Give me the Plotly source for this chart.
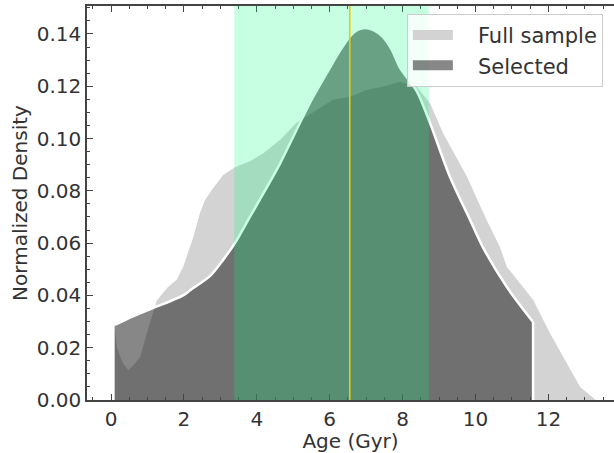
import plotly.graph_objects as go

# ---- data ----
full_x = [0.10, 0.16, 0.33, 0.47, 0.60, 0.80, 0.93, 1.07, 1.15, 1.25, 1.55, 1.80, 1.98, 2.25, 2.44,
          2.58, 2.80, 3.07, 3.40, 3.81, 4.18, 4.64, 5.09, 5.64, 6.09, 6.56, 7.02, 7.50, 7.93, 8.39,
          8.75, 9.11, 9.77, 10.30, 10.67, 10.86, 11.58, 12.04, 12.50, 12.87, 13.20, 13.30]
full_y = [0.028, 0.020, 0.014, 0.0115, 0.013, 0.0165, 0.023, 0.0295, 0.034, 0.038, 0.043, 0.046,
          0.051, 0.062, 0.0715, 0.0765, 0.081, 0.086, 0.089, 0.0913, 0.0944, 0.0995, 0.106, 0.1109,
          0.1148, 0.116, 0.1186, 0.120, 0.1217, 0.1197, 0.1136, 0.102, 0.0853, 0.0689, 0.0585,
          0.0509, 0.0383, 0.0256, 0.0142, 0.005, 0.0011, 0.0]

sel_x = [0.10, 0.60, 1.15, 1.34, 1.98, 2.17, 2.72, 3.07, 3.40, 3.81, 4.18, 4.64, 5.09, 5.50, 6.00,
         6.30, 6.55, 6.75, 6.97, 7.20, 7.45, 7.70, 7.93, 8.39, 8.75, 9.30, 9.85, 10.20, 10.86, 11.58]
sel_y = [0.0287, 0.032, 0.0352, 0.0362, 0.0400, 0.0420, 0.0475, 0.0535, 0.0600, 0.0700, 0.0790,
         0.0905, 0.1033, 0.1148, 0.1270, 0.1340, 0.1390, 0.1415, 0.1423, 0.1415, 0.1390, 0.1340,
         0.1270, 0.1180, 0.1060, 0.0853, 0.0689, 0.0585, 0.0432, 0.0298]

band_lo, band_hi = 3.38, 8.72
age_marker = 6.55

x_ticks = [0, 2, 4, 6, 8, 10, 12]
y_ticks = [0.00, 0.02, 0.04, 0.06, 0.08, 0.10, 0.12, 0.14]
x_range = [-0.66, 13.80]
y_range = [0.0, 0.1507]

FONT = "DejaVu Sans"
TXT = "#333333"
AX = "#444444"
FULL_COLOR = "#d3d3d3"
SEL_COLOR = "rgba(0,0,0,0.47)"
PAD = "\u00a0\u00a0\u00a0"

fig = go.Figure()

fig.add_trace(go.Scatter(
    x=full_x, y=full_y, mode="lines", fill="tozeroy",
    fillcolor=FULL_COLOR, line=dict(width=0, color=FULL_COLOR),
    showlegend=False, hoverinfo="skip"))

fig.add_trace(go.Scatter(
    x=sel_x, y=sel_y, mode="lines", fill="tozeroy",
    fillcolor=SEL_COLOR, line=dict(width=0, shape="spline", smoothing=0.8, color=SEL_COLOR),
    showlegend=False, hoverinfo="skip"))

# white outline of the selected distribution
fig.add_trace(go.Scatter(
    x=sel_x, y=sel_y, mode="lines",
    line=dict(width=2.5, color="white", shape="spline", smoothing=0.8),
    showlegend=False, hoverinfo="skip"))
fig.add_trace(go.Scatter(
    x=[sel_x[-1], sel_x[-1]], y=[sel_y[-1], 0], mode="lines",
    line=dict(width=2.5, color="white"), showlegend=False, hoverinfo="skip"))

# legend entries (patch-like thick strokes)
fig.add_trace(go.Scatter(x=[None], y=[None], mode="lines", name=PAD + "Full sample",
                         line=dict(color=FULL_COLOR, width=12), legendgroup="a"))
fig.add_trace(go.Scatter(x=[None], y=[None], mode="lines", name=PAD + "Selected",
                         line=dict(color=SEL_COLOR, width=12), legendgroup="b"))

fig.add_vrect(x0=band_lo, x1=band_hi, fillcolor="rgba(0,255,127,0.22)",
              line_width=0, layer="above")
fig.add_vline(x=age_marker, line=dict(color="#efc900", width=1.6), layer="above")

fig.update_layout(
    width=614, height=453,
    margin=dict(l=87, r=0, t=6, b=53, autoexpand=False),
    paper_bgcolor="white", plot_bgcolor="white",
    font=dict(family=FONT, size=20, color=TXT),
    showlegend=True,
    legend=dict(x=0.607, y=0.98, xanchor="left", yanchor="top",
                bgcolor="rgba(255,255,255,0.8)", bordercolor="#cccccc", borderwidth=1,
                font=dict(family=FONT, size=21, color=TXT), tracegroupgap=0,
                itemwidth=40),
    xaxis=dict(range=x_range, tickvals=x_ticks, ticktext=[str(v) for v in x_ticks],
               ticks="inside", ticklen=6, tickwidth=1.2, tickcolor=AX,
               showline=True, linecolor=AX, linewidth=1.5, mirror="ticks",
               showgrid=False, zeroline=False, automargin=False,
               minor=dict(ticks="inside", ticklen=3, dtick=0.5, tick0=0, tickcolor=AX, tickwidth=1),
               title=dict(text="Age (Gyr)", font=dict(size=20, family=FONT, color=TXT), standoff=2),
               tickfont=dict(size=20, family=FONT, color=TXT)),
    yaxis=dict(range=y_range, tickvals=y_ticks, ticktext=[f"{v:.2f}" for v in y_ticks],
               ticks="inside", ticklen=6, tickwidth=1.2, tickcolor=AX,
               showline=True, linecolor=AX, linewidth=1.5, mirror=False,
               showgrid=False, zeroline=False, automargin=False,
               minor=dict(ticks="inside", ticklen=3, dtick=0.005, tick0=0, tickcolor=AX, tickwidth=1),
               title=dict(text="Normalized Density", font=dict(size=20, family=FONT, color=TXT), standoff=4),
               tickfont=dict(size=20, family=FONT, color=TXT)),
)

fig.write_html("out.html", config={"displayModeBar": False},
               post_script="document.body.style.margin='0';document.body.style.overflow='hidden';")
